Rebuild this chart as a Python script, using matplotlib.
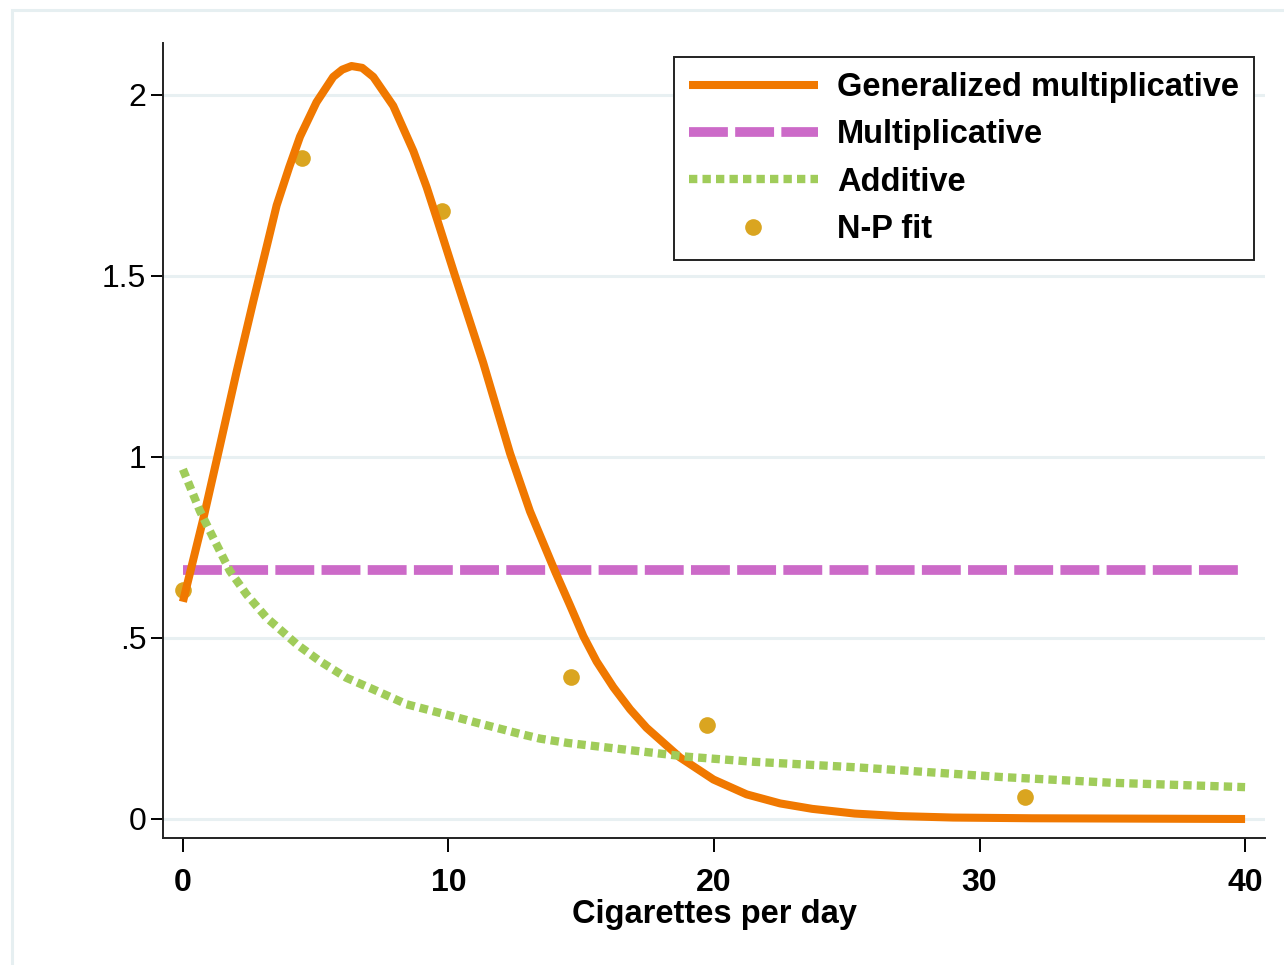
import matplotlib.pyplot as plt
from matplotlib.patches import Rectangle

# values
gm_x = [0, 0.77, 1.39, 2.02, 2.65, 3.15, 3.53, 4.0, 4.41, 5.03, 5.66, 6.0, 6.35, 6.75,
        7.17, 7.92, 8.68, 9.18, 9.6, 10.25, 11.31, 12.32, 13.07, 14.01, 14.58,
        15.08, 15.58, 16.21, 16.84, 17.46, 18.72, 19.98, 21.23, 22.49, 23.7, 25.3,
        27.0, 29.0, 32.0, 36.0, 40.0]
gm_y = [0.60, 0.83, 1.03, 1.235, 1.43, 1.58, 1.695, 1.80, 1.885, 1.98, 2.05, 2.07, 2.08,
        2.075, 2.05, 1.97, 1.845, 1.745, 1.65, 1.50, 1.26, 1.01, 0.85, 0.685, 0.59,
        0.505, 0.435, 0.364, 0.303, 0.252, 0.170, 0.109, 0.068, 0.043, 0.028, 0.015,
        0.008, 0.004, 0.002, 0.001, 0.0]

mult_x = [0, 40]
mult_y = [0.687, 0.687]

add_x = [0, 0.64, 1.14, 1.77, 2.4, 3.15, 3.65, 4.28, 5.16, 6.16, 7.17, 8.42, 9.68,
         11.06, 12.7, 13.45, 14.5, 16.5, 19.0, 21.5, 25.3, 30.8, 35.0, 40.0]
add_y = [0.966, 0.851, 0.777, 0.685, 0.62, 0.556, 0.524, 0.483, 0.436, 0.39, 0.358,
         0.317, 0.293, 0.266, 0.235, 0.222, 0.21, 0.193, 0.172, 0.158, 0.143, 0.116,
         0.10, 0.088]

np_x = [0, 4.5, 9.75, 14.6, 19.75, 31.7]
np_y = [0.633, 1.826, 1.68, 0.392, 0.259, 0.06]

yticks = [0, 0.5, 1, 1.5, 2]
ytick_labels = ['0', '.5', '1', '1.5', '2']
xticks = [0, 10, 20, 30, 40]

plt.rcParams['font.family'] = ['Liberation Sans', 'DejaVu Sans']

fig = plt.figure(figsize=(12.84, 9.65), dpi=100)
# light outer graph-region border (cropped in the reference)
fig.patches.append(Rectangle((12 / 1284, -0.1), 1.2, (965 - 10) / 965 + 0.1,
                             transform=fig.transFigure, fill=False,
                             edgecolor='#e6eff1', linewidth=2.2))

ax = fig.add_axes([163 / 1284, 127 / 965, 1102 / 1284, 795 / 965])

ax.plot(np_x, np_y, 'o', color='#daa520', markersize=12, markeredgewidth=0,
        label='N-P fit', zorder=2)
ax.plot(mult_x, mult_y, color='#cc6ac8', linewidth=7, dashes=(4.0, 0.75),
        dash_capstyle='butt', label='Multiplicative', zorder=3)
ax.plot(gm_x, gm_y, color='#f07800', linewidth=5.8, solid_capstyle='butt',
        solid_joinstyle='round', label='Generalized multiplicative', zorder=4)
ax.plot(add_x, add_y, color='#a0cc5a', linewidth=6, dashes=(1.0, 0.62),
        dash_capstyle='butt', label='Additive', zorder=5)

ax.set_xlim(-0.75, 40.75)
ax.set_ylim(-0.0525, 2.1436)
ax.set_yticks(yticks)
ax.set_yticklabels(ytick_labels)
ax.set_xticks(xticks)
ax.grid(axis='y', color='#e8f0f2', linewidth=2.2, zorder=0)
ax.set_axisbelow(True)

for s in ['top', 'right']:
    ax.spines[s].set_visible(False)
for s in ['left', 'bottom']:
    ax.spines[s].set_linewidth(1.4)
    ax.spines[s].set_color('#222222')

ax.tick_params(axis='y', length=9, width=1.4, labelsize=23, pad=3)
ax.tick_params(axis='x', length=10, width=1.4, labelsize=23, pad=11.5)
for lab in ax.get_xticklabels():
    lab.set_fontweight('bold')

ax.set_xlabel('Cigarettes per day', fontsize=23.5, fontweight='bold', labelpad=1)

h, l = ax.get_legend_handles_labels()
order = [2, 1, 3, 0]
leg = ax.legend([h[i] for i in order], [l[i] for i in order],
                loc='upper right', bbox_to_anchor=(0.990, 0.982),
                borderaxespad=0, prop={'weight': 'bold', 'size': 23.5},
                handlelength=3.95, handletextpad=0.6, borderpad=0.45,
                labelspacing=0.5, fancybox=False, framealpha=1,
                edgecolor='#222222', numpoints=1)
leg.get_frame().set_linewidth(1.4)

plt.savefig('out.png', dpi=100)
